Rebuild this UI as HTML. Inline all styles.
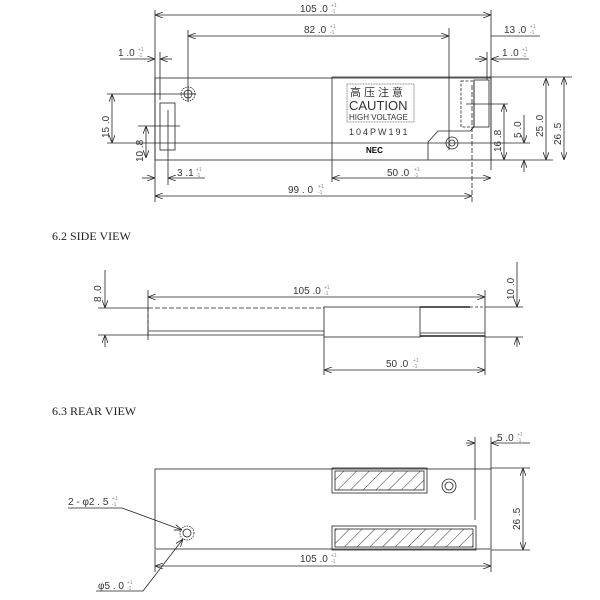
<!DOCTYPE html>
<html><head><meta charset="utf-8"><style>
body{margin:0;background:#fff}
svg{display:block}
text{font-family:"Liberation Sans","Noto Sans CJK SC",sans-serif;fill:#333}
.t{font-size:10px}
.s{font-size:5px;fill:#888}
.h{font-family:"Liberation Serif",serif;font-size:12px;fill:#222}
</style></head><body>
<svg width="600" height="600" viewBox="0 0 600 600" xmlns="http://www.w3.org/2000/svg">
<defs>
<marker id="a" markerWidth="8" markerHeight="6" refX="8" refY="3" orient="auto-start-reverse" markerUnits="userSpaceOnUse"><path d="M0,0 L8,3 L0,6" fill="none" stroke="#222" stroke-width="0.8"/></marker>
<pattern id="hp" width="9" height="9" patternUnits="userSpaceOnUse" patternTransform="rotate(45)"><line x1="0" y1="0" x2="0" y2="9" stroke="#222" stroke-width="0.9"/></pattern>
</defs>
<g stroke="#222" stroke-width="0.8" fill="none">
<!-- TOP VIEW -->
<line x1="155" y1="10" x2="155" y2="202"/>
<line x1="491" y1="10" x2="491" y2="170"/>
<line x1="155" y1="15" x2="491" y2="15" marker-start="url(#a)" marker-end="url(#a)"/>
<line x1="188" y1="30" x2="188" y2="100"/>
<line x1="449" y1="28" x2="449" y2="150"/>
<line x1="188" y1="36" x2="449" y2="36" marker-start="url(#a)" marker-end="url(#a)"/>
<line x1="491" y1="36" x2="540" y2="36"/>
<line x1="120" y1="59" x2="155" y2="59" marker-end="url(#a)"/>
<line x1="160" y1="52" x2="160" y2="100"/>
<line x1="172" y1="59" x2="160" y2="59" marker-end="url(#a)"/>
<line x1="475" y1="59" x2="487" y2="59" marker-end="url(#a)"/>
<line x1="487" y1="52" x2="487" y2="80"/>
<line x1="529" y1="59" x2="491" y2="59" marker-end="url(#a)"/>
<rect x="155" y="78" width="336" height="82"/>
<line x1="332" y1="77" x2="332" y2="182"/>
<line x1="332" y1="77" x2="491" y2="77"/>
<circle cx="188" cy="94" r="7" stroke-dasharray="1.5 1"/>
<circle cx="188" cy="94" r="4"/>
<line x1="180" y1="94" x2="196" y2="94"/>
<line x1="188" y1="86" x2="188" y2="102"/>
<rect x="160" y="103" width="15" height="47"/>
<line x1="168" y1="110" x2="168" y2="185"/>
<line x1="107" y1="94" x2="180" y2="94"/>
<line x1="107" y1="143" x2="530" y2="143"/>
<line x1="112" y1="94" x2="112" y2="143" marker-start="url(#a)" marker-end="url(#a)"/>
<line x1="138" y1="126" x2="180" y2="126"/>
<line x1="146" y1="126" x2="146" y2="158" marker-start="url(#a)" marker-end="url(#a)"/>
<line x1="142" y1="178" x2="155" y2="178" marker-end="url(#a)"/>
<line x1="205" y1="178" x2="168" y2="178" marker-end="url(#a)"/>
<line x1="155" y1="196" x2="472" y2="196" marker-start="url(#a)" marker-end="url(#a)"/>
<line x1="332" y1="178" x2="491" y2="178" marker-start="url(#a)" marker-end="url(#a)"/>
<line x1="472" y1="85" x2="472" y2="202" stroke-dasharray="5 2"/>
<rect x="347" y="84" width="67" height="38" stroke="#666" stroke-dasharray="1 0.6"/>
<polyline points="428,160 428,142 438,131 470,131 474,127 474,80"/>
<circle cx="452" cy="143" r="6"/>
<circle cx="452" cy="143" r="3"/>
<rect x="461" y="81" width="13" height="46" stroke-dasharray="3 1.5"/>
<rect x="474" y="80" width="15" height="47"/>
<line x1="466" y1="104" x2="508" y2="104"/>
<line x1="504" y1="104" x2="504" y2="160" marker-start="url(#a)" marker-end="url(#a)"/>
<line x1="524" y1="115" x2="524" y2="143" marker-end="url(#a)"/>
<line x1="524" y1="172" x2="524" y2="160" marker-end="url(#a)"/>
<line x1="491" y1="160" x2="553" y2="160"/>
<line x1="491" y1="77" x2="572" y2="77"/>
<line x1="546" y1="78" x2="546" y2="160" marker-start="url(#a)" marker-end="url(#a)"/>
<line x1="564" y1="77" x2="564" y2="160" marker-start="url(#a)" marker-end="url(#a)"/>
<!-- SIDE VIEW -->
<line x1="148" y1="290" x2="148" y2="340"/>
<line x1="485" y1="290" x2="485" y2="375"/>
<line x1="148" y1="297" x2="485" y2="297" marker-start="url(#a)" marker-end="url(#a)"/>
<line x1="148" y1="308" x2="324" y2="308" stroke-dasharray="5 2"/>
<line x1="148" y1="308" x2="148" y2="335" stroke-dasharray="4 2"/>
<line x1="148" y1="331" x2="324" y2="331"/>
<line x1="148" y1="335" x2="324" y2="335"/>
<rect x="324" y="307" width="96" height="30"/>
<line x1="420" y1="307" x2="470" y2="307" stroke-width="1.6"/>
<line x1="470" y1="307" x2="485" y2="307" stroke-dasharray="3 2"/>
<line x1="420" y1="333" x2="485" y2="333"/>
<line x1="420" y1="336" x2="485" y2="336" stroke-width="1.4"/>
<line x1="98" y1="308" x2="148" y2="308"/>
<line x1="98" y1="335" x2="148" y2="335"/>
<line x1="105" y1="270" x2="105" y2="308" marker-end="url(#a)"/>
<line x1="105" y1="347" x2="105" y2="335" marker-end="url(#a)"/>
<line x1="485" y1="307" x2="523" y2="307"/>
<line x1="485" y1="337" x2="523" y2="337"/>
<line x1="517" y1="262" x2="517" y2="307" marker-end="url(#a)"/>
<line x1="517" y1="347" x2="517" y2="337" marker-end="url(#a)"/>
<line x1="324" y1="337" x2="324" y2="375"/>
<line x1="324" y1="370" x2="485" y2="370" marker-start="url(#a)" marker-end="url(#a)"/>
<!-- REAR VIEW -->
<rect x="155" y="469" width="336" height="80"/>
<line x1="475" y1="437" x2="475" y2="520"/>
<line x1="491" y1="437" x2="491" y2="469"/>
<rect x="332" y="468" width="95" height="25"/>
<rect x="335" y="471" width="89" height="19" fill="url(#hp)"/>
<rect x="332" y="526" width="144" height="24"/>
<rect x="335" y="529" width="138" height="18" fill="url(#hp)"/>
<circle cx="449" cy="486" r="7"/>
<circle cx="449" cy="486" r="4"/>
<circle cx="187" cy="533" r="7" stroke-dasharray="1.5 1"/>
<circle cx="187" cy="533" r="4"/>
<polyline points="68,508 122,508 182,530" marker-end="url(#a)"/>
<polyline points="96,591 143,591 183,539" marker-end="url(#a)"/>
<line x1="155" y1="550" x2="155" y2="572"/>
<line x1="491" y1="550" x2="491" y2="572"/>
<line x1="155" y1="566" x2="491" y2="566" marker-start="url(#a)" marker-end="url(#a)"/>
<line x1="491" y1="468" x2="530" y2="468"/>
<line x1="491" y1="550" x2="530" y2="550"/>
<line x1="523" y1="468" x2="523" y2="550" marker-start="url(#a)" marker-end="url(#a)"/>
<line x1="466" y1="443" x2="475" y2="443" marker-end="url(#a)"/>
<line x1="530" y1="443" x2="491" y2="443" marker-end="url(#a)"/>
</g>
<!-- text -->
<text class="t" x="300" y="12">105 .0</text><text class="s" x="331" y="7">+1</text><text class="s" x="331" y="13">-1</text>
<text class="t" x="304" y="33">82 .0</text><text class="s" x="330" y="28">+1</text><text class="s" x="330" y="34">-1</text>
<text class="t" x="504" y="33">13 .0</text><text class="s" x="530" y="28">+1</text><text class="s" x="530" y="34">-1</text>
<text class="t" x="118" y="56">1 .0</text><text class="s" x="138" y="51">+1</text><text class="s" x="138" y="57">-1</text>
<text class="t" x="502" y="56">1 .0</text><text class="s" x="522" y="51">+1</text><text class="s" x="522" y="57">-1</text>
<text class="t" x="177" y="176">3 .1</text><text class="s" x="196" y="171">+1</text><text class="s" x="196" y="177">-1</text>
<text class="t" x="288" y="193">99 . 0</text><text class="s" x="318" y="188">+1</text><text class="s" x="318" y="194">-1</text>
<text class="t" x="387" y="176">50 .0</text><text class="s" x="414" y="171">+1</text><text class="s" x="414" y="177">-1</text>
<text class="t" transform="translate(109,138) rotate(-90)">15 .0</text>
<text class="t" transform="translate(143,162) rotate(-90)">10 .8</text>
<text class="t" transform="translate(501,152) rotate(-90)">16 .8</text>
<text class="t" transform="translate(521,138) rotate(-90)">5 .0</text>
<text class="t" transform="translate(543,137) rotate(-90)">25 .0</text>
<text class="t" transform="translate(561,145) rotate(-90)">26 .5</text>
<text x="350" y="96" style="font-size:11px;letter-spacing:3px">高压注意</text>
<text x="349" y="110" style="font-size:13px">CAUTION</text>
<text x="349" y="120" style="font-size:8px">HIGH VOLTAGE</text>
<text x="349" y="135" style="font-size:9px;letter-spacing:2px">104PW191</text>
<text x="366" y="153" style="font-size:8px;font-weight:bold;fill:#000">NEC</text>
<text class="h" x="52" y="240">6.2 SIDE VIEW</text>
<text class="t" x="293" y="294">105 .0</text><text class="s" x="324" y="289">+1</text><text class="s" x="324" y="295">-1</text>
<text class="t" x="386" y="367">50 .0</text><text class="s" x="413" y="362">+1</text><text class="s" x="413" y="368">-1</text>
<text class="t" transform="translate(101,302) rotate(-90)">8 .0</text>
<text class="t" transform="translate(514,300) rotate(-90)">10 .0</text>
<text class="h" x="52" y="415">6.3 REAR VIEW</text>
<text class="t" x="68" y="505">2 - φ2 . 5</text><text class="s" x="112" y="500">+1</text><text class="s" x="112" y="506">-1</text>
<text class="t" x="98" y="589">φ5 . 0</text><text class="s" x="127" y="584">+1</text><text class="s" x="127" y="590">-1</text>
<text class="t" x="300" y="562">105 .0</text><text class="s" x="331" y="557">+1</text><text class="s" x="331" y="563">-1</text>
<text class="t" x="497" y="441">5 .0</text><text class="s" x="517" y="436">+1</text><text class="s" x="517" y="442">-1</text>
<text class="t" transform="translate(520,530) rotate(-90)">26 .5</text>
</svg>
</body></html>
